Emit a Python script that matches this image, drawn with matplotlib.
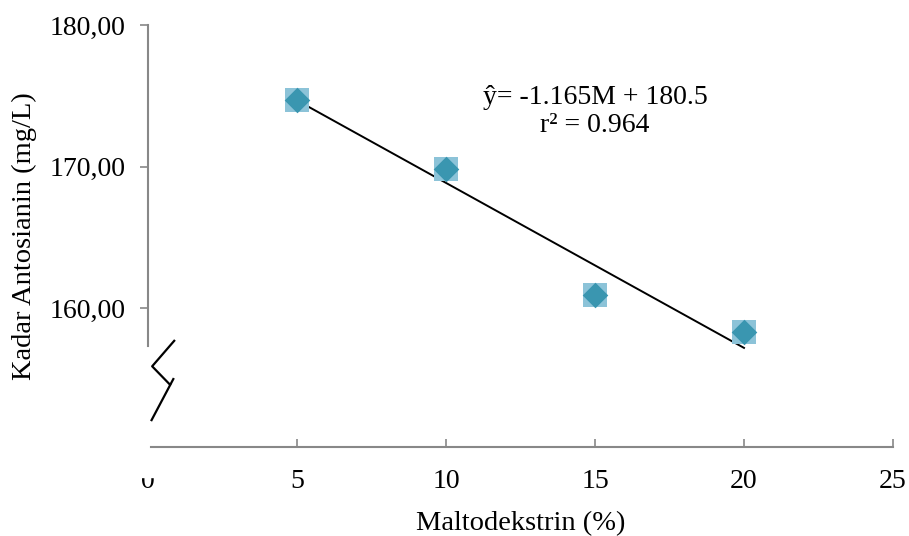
import matplotlib
matplotlib.use("Agg")
import matplotlib.pyplot as plt
import numpy as np
from matplotlib.patches import Rectangle
from matplotlib.ticker import FuncFormatter

plt.rcParams['font.family'] = ['Liberation Serif', 'DejaVu Serif']

# maltodekstrin (%) vs kadar antosianin (mg/L)
maltodekstrin = [5, 10, 15, 20]
antosianin = [174.7, 169.8, 160.9, 158.3]

slope = -1.165
intercept = 180.5
r2 = 0.964

x_ticks = [0, 5, 10, 15, 20, 25]
y_ticks = [160, 170, 180]

# zigzag marking the broken y axis (data units)
break_a = [(0.88, 157.7), (0.14, 155.9), (0.74, 154.6)]
break_b = [(0.85, 155.0), (0.12, 152.1)]

axis_gray = '#888888'

fig = plt.figure(figsize=(9.09, 5.36), dpi=100)
ax = fig.add_axes([0.1628, 0.166, 0.8196, 0.7874])
ax.set_xlim(0, 25)
ax.set_ylim(150.2, 180)

# trendline from the fitted equation
xl = np.array([maltodekstrin[0], maltodekstrin[-1]])
ax.plot(xl, slope * xl + intercept, color='black', lw=1.4, zorder=2)

ax.scatter(maltodekstrin, antosianin, marker='s', s=300, color='#8cc3d8',
           lw=0, zorder=3)
ax.scatter(maltodekstrin, antosianin, marker='D', s=170, color='#3a96b0',
           lw=0, zorder=4)

ax.text(15.0, 173.9, f'ŷ= {slope}M + {intercept}\nr² = {r2}',
        ha='center', va='center', fontsize=20, linespacing=1.15)

for spine in ['top', 'right']:
    ax.spines[spine].set_visible(False)
ax.spines['left'].set_color(axis_gray)
ax.spines['bottom'].set_color(axis_gray)
ax.spines['left'].set_linewidth(1.5)
ax.spines['bottom'].set_linewidth(1.5)
ax.spines['left'].set_bounds(157.3, 180)
ax.spines['bottom'].set_bounds(0.1, 25)

ax.set_yticks(y_ticks)
ax.yaxis.set_major_formatter(FuncFormatter(lambda v, p: f'{v:.2f}'.replace('.', ',')))
ax.set_xticks(x_ticks)
ax.tick_params(axis='y', direction='out', length=6, width=1.2, color=axis_gray,
               labelsize=20, pad=10)
ax.tick_params(axis='x', direction='in', length=6, width=1.2, color=axis_gray,
               labelsize=20, pad=16)
ax.xaxis.get_major_ticks()[0].tick1line.set_visible(False)

for path in (break_a, break_b):
    bx, by = zip(*path)
    ax.plot(bx, by, color='black', lw=1.6, clip_on=False, zorder=5)

ax.set_xlabel('Maltodekstrin (%)', fontsize=20.5, labelpad=12)
ax.set_ylabel('Kadar Antosianin (mg/L)', fontsize=20.5, labelpad=9)

# the "0" label sits half under the break gap
fig.patches.append(Rectangle((0.150, 0.110), 0.025, 0.034, transform=fig.transFigure,
                             color='white', zorder=10))

fig.savefig('out.png', dpi=100)
